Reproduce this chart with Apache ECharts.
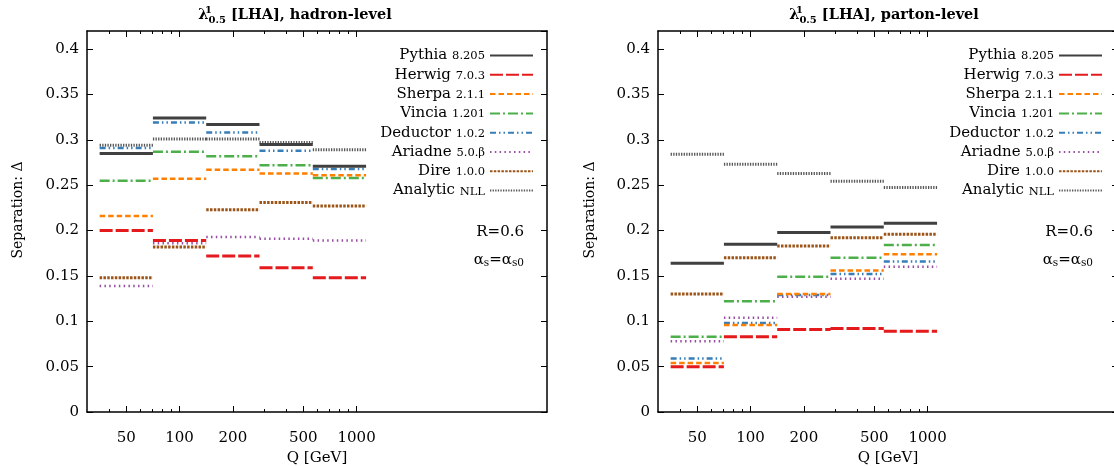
<!DOCTYPE html>
<html><head><meta charset="utf-8">
<script src="https://cdn.jsdelivr.net/npm/echarts@6/dist/echarts.min.js"></script>
<style>html,body{margin:0;padding:0;background:#fff}#c{width:1114px;height:466px}</style>
</head><body><div id="c"></div>
<script>
// ---- data ----
const binEdges = [35.36, 70.71, 141.42, 282.84, 565.69, 1131.37]; // Q bins [GeV]
const generators = ['Pythia 8.205','Herwig 7.0.3','Sherpa 2.1.1','Vincia 1.201','Deductor 1.0.2','Ariadne 5.0.β','Dire 1.0.0','Analytic NLL'];
// hadron-level separation
const hadPythia   = [0.285, 0.324, 0.317, 0.295, 0.271];
const hadHerwig   = [0.200, 0.189, 0.172, 0.159, 0.148];
const hadSherpa   = [0.216, 0.257, 0.267, 0.263, 0.261];
const hadVincia   = [0.255, 0.287, 0.282, 0.272, 0.258];
const hadDeductor = [0.291, 0.319, 0.308, 0.288, 0.268];
const hadAriadne  = [0.139, 0.186, 0.193, 0.191, 0.189];
const hadDire     = [0.148, 0.182, 0.223, 0.231, 0.227];
const hadAnalytic = [0.294, 0.301, 0.301, 0.297, 0.289];
// parton-level separation
const parPythia   = [0.164, 0.185, 0.198, 0.204, 0.208];
const parHerwig   = [0.050, 0.083, 0.091, 0.092, 0.089];
const parSherpa   = [0.054, 0.096, 0.130, 0.156, 0.174];
const parVincia   = [0.083, 0.122, 0.149, 0.170, 0.184];
const parDeductor = [0.059, 0.098, 0.129, 0.152, 0.166];
const parAriadne  = [0.078, 0.104, 0.127, 0.147, 0.160];
const parDire     = [0.130, 0.170, 0.183, 0.192, 0.196];
const parAnalytic = [0.284, 0.273, 0.263, 0.2545, 0.2475];
// axes
const xMajorTicks = [50, 100, 200, 500, 1000];
const xMinorTicks = [40, 60, 70, 80, 90, 300, 400, 600, 700, 800, 900];
const xRange = [30, 11900];
const yRange = [0, 0.42];
const yStep = 0.05;

// ---- styles ----
const FONT = 'DejaVu Serif';
const styles = [
  {color:'#404040', width:3,   type:'solid'},
  {color:'#e41a1c', width:3,   type:[13,3]},
  {color:'#ff7f00', width:2.5, type:[5.5,3]},
  {color:'#4daf4a', width:2.5, type:[10,3,2,3]},
  {color:'#377eb8', width:2.5, type:[6,3,1.5,3,1.5,3]},
  {color:'#984ea3', width:2.5, type:[1.5,3.3]},
  {color:'#9c5418', width:3,   type:[2.5,1.3]},
  {color:'#555555', width:3,   type:[1.3,1.3]}
];
const hadSets = [hadPythia,hadHerwig,hadSherpa,hadVincia,hadDeductor,hadAriadne,hadDire,hadAnalytic];
const parSets = [parPythia,parHerwig,parSherpa,parVincia,parDeductor,parAriadne,parDire,parAnalytic];

const L = Math.log10;
function stepData(vals){
  const d = [];
  vals.forEach((v,i)=>{
    d.push([L(binEdges[i]), v]);
    d.push([L(binEdges[i+1]), v]);
    d.push([L(binEdges[i+1]), '-']);
  });
  return d;
}

const grids = [
  {left:87, top:31, width:460, height:381},
  {left:658, top:31, width:460, height:381}
];
const tickLine = {color:'#000', width:1};
const frameLine = {show:true, onZero:false, lineStyle:{color:'#000', width:1.5}};
const noLine = {show:false, onZero:false};
const xAxes = [], yAxes = [], series = [];
grids.forEach((g, gi)=>{
  const base = {type:'value', gridIndex:gi, min:L(xRange[0]), max:L(xRange[1]), splitLine:{show:false}};
  const mainIdx = xAxes.length;
  xAxes.push(Object.assign({}, base, {position:'bottom', axisLine:frameLine,
    name:'Q [GeV]', nameLocation:'middle', nameGap:39,
    nameTextStyle:{fontFamily:FONT, fontSize:15, color:'#000'},
    axisTick:{show:true, inside:true, length:6, customValues:xMajorTicks.map(L), lineStyle:tickLine},
    axisLabel:{show:true, customValues:xMajorTicks.map(L), margin:19, fontFamily:FONT, fontSize:15, color:'#000',
      formatter:v=>String(Math.round(Math.pow(10,v)))}}));
  xAxes.push(Object.assign({}, base, {position:'bottom', axisLine:noLine,
    axisTick:{show:true, inside:true, length:3, customValues:xMinorTicks.map(L), lineStyle:tickLine},
    axisLabel:{show:false}}));
  xAxes.push(Object.assign({}, base, {position:'top', axisLine:frameLine,
    axisTick:{show:true, inside:true, length:6, customValues:xMajorTicks.map(L), lineStyle:tickLine},
    axisLabel:{show:false}}));
  xAxes.push(Object.assign({}, base, {position:'top', axisLine:noLine,
    axisTick:{show:true, inside:true, length:3, customValues:xMinorTicks.map(L), lineStyle:tickLine},
    axisLabel:{show:false}}));
  const yIdx = yAxes.length;
  const ybase = {type:'value', gridIndex:gi, min:yRange[0], max:yRange[1], interval:yStep, splitLine:{show:false}};
  yAxes.push(Object.assign({}, ybase, {position:'left', axisLine:frameLine,
    axisTick:{show:true, inside:true, length:6, lineStyle:tickLine},
    axisLabel:{show:true, margin:8, fontFamily:FONT, fontSize:15, color:'#000', showMaxLabel:false}}));
  yAxes.push(Object.assign({}, ybase, {position:'right', axisLine:frameLine,
    axisTick:{show:true, inside:true, length:6, lineStyle:tickLine},
    axisLabel:{show:false}}));
  const sets = gi === 0 ? hadSets : parSets;
  generators.forEach((name, si)=>{
    series.push({type:'line', name, xAxisIndex:mainIdx, yAxisIndex:yIdx,
      data:stepData(sets[si]), symbol:'none', connectNulls:false, animation:false,
      lineStyle:{color:styles[si].color, width:styles[si].width, type:styles[si].type, cap:'butt'},
      itemStyle:{color:styles[si].color}, z: 10 - si});
  });
});

function legendFor(right){
  return {orient:'vertical', right, top:48, padding:0, align:'right',
    itemWidth:43, itemHeight:14, itemGap:4.3, data:generators,
    itemStyle:{opacity:0}, selectedMode:false,
    formatter:n=>{const i=n.lastIndexOf(' '); return '{a|'+n.slice(0,i)+' }{b|'+n.slice(i+1)+'}';},
    textStyle:{color:'#000', fontFamily:FONT,
      rich:{a:{fontFamily:FONT, fontSize:15, lineHeight:17, color:'#000'},
            b:{fontFamily:FONT, fontSize:11.5, lineHeight:17, color:'#000', padding:[2,0,0,0]}}}};
}

function titleG(x, label){
  return {type:'text', x, y:15, z:100, style:{
    text:'{l|λ}{sup|1}{sub|0.5}{m| [LHA], '+label+'}',
    align:'center', verticalAlign:'middle', textAlign:'center', textVerticalAlign:'middle',
    fill:'#000',
    rich:{
      l:{fontFamily:FONT, fontSize:14.5, fontWeight:'bold', lineHeight:20, verticalAlign:'middle'},
      sup:{fontFamily:FONT, fontSize:10, fontWeight:'bold', lineHeight:10, verticalAlign:'top', width:0},
      sub:{fontFamily:FONT, fontSize:10, fontWeight:'bold', lineHeight:10, verticalAlign:'bottom'},
      m:{fontFamily:FONT, fontSize:14.5, fontWeight:'bold', lineHeight:20, verticalAlign:'middle'}
    }}};
}
function annot(x, y, text, rich){
  return {type:'text', x, y, z:100, style:{text, align:'right', verticalAlign:'middle',
    textAlign:'right', textVerticalAlign:'middle', fill:'#000', fontFamily:FONT, fontSize:15, rich}};
}
const alphaRich = {a:{fontFamily:FONT, fontSize:15, lineHeight:18, verticalAlign:'middle'},
                   s:{fontFamily:FONT, fontSize:10.5, lineHeight:10, verticalAlign:'bottom'}};
function yName(x){
  return {type:'text', x, y:210, rotation:Math.PI/2, z:100, style:{text:'Separation: Δ',
    align:'center', verticalAlign:'middle', textAlign:'center', textVerticalAlign:'middle',
    fill:'#000', fontFamily:FONT, fontSize:14}};
}

const option = {
  animation:false,
  backgroundColor:'#fff',
  grid: grids.map(g=>Object.assign({show:false, containLabel:false, outerBoundsMode:'none'}, g)),
  xAxis: xAxes,
  yAxis: yAxes,
  legend: [legendFor(1114-534), legendFor(1114-1103)],
  series,
  graphic: [
    titleG(295, 'hadron-level'), titleG(884, 'parton-level'),
    annot(524, 232, 'R=0.6'), annot(1093, 232, 'R=0.6'),
    annot(524, 260, '{a|α}{s|s}{a|=α}{s|s0}', alphaRich), annot(1093, 260, '{a|α}{s|s}{a|=α}{s|s0}', alphaRich),
    yName(18), yName(590)
  ]
};
const chart = echarts.init(document.getElementById('c'), null, {renderer:'canvas'});
chart.setOption(option);
</script></body></html>
